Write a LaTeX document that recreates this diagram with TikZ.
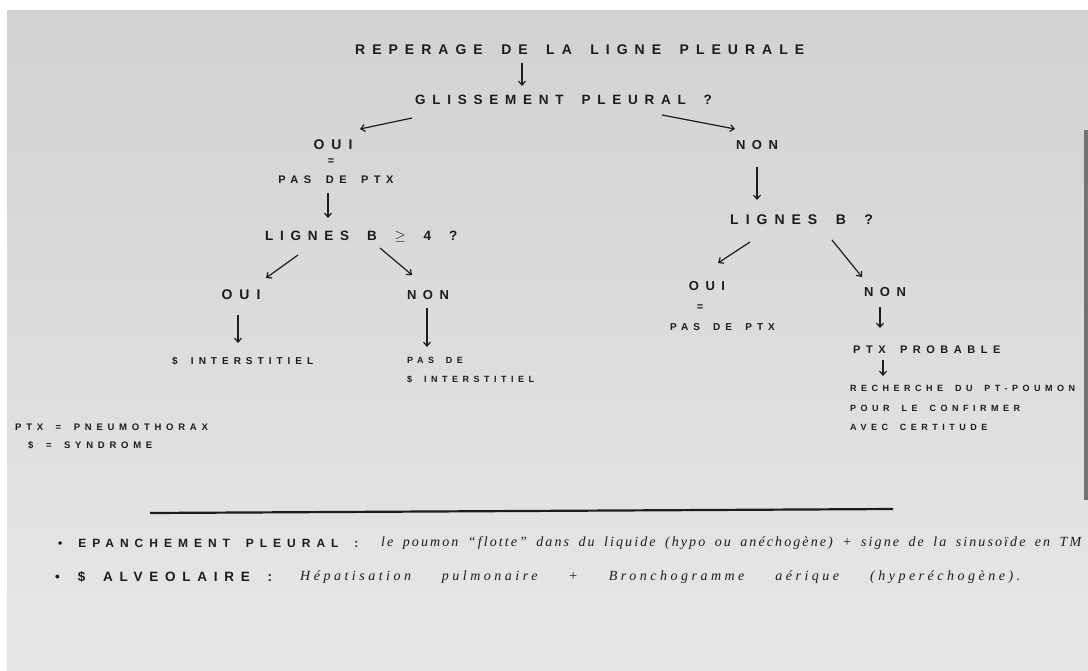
\documentclass[tikz,border=0pt]{standalone}
\usepackage{fontspec}
\usetikzlibrary{arrows.meta}
\newfontfamily\capsfont[LetterSpace=50,WordSpace=1.7]{Liberation Sans Bold}
\newfontfamily\ecritfont[LetterSpace=15]{Liberation Serif}
\newfontfamily\ecritlarge[LetterSpace=25]{Liberation Serif}
\definecolor{encre}{HTML}{1C1C1C}
\definecolor{papierhaut}{HTML}{D2D2D2}
\definecolor{papierbas}{HTML}{E7E7E7}

\begin{document}
\begin{tikzpicture}[x=1pt,y=-1pt]
  \tikzset{ maj/.style={encre,inner sep=0pt,font=\capsfont\fontsize{#1}{#1}\selectfont},
    bloc/.style={align=left,font=\capsfont\fontsize{#1}{19.5}\selectfont},
    ecr/.style={encre,inner sep=0pt,font=\ecritfont\itshape\fontsize{14}{16}\selectfont},
    fl/.style={encre,line width=1.2pt,-{Straight Barb[length=4pt,width=7pt]}},
  }
  \useasboundingbox (0,0) rectangle (1088,670);
  \fill[white] (0,0) rectangle (1088,670);
  \shade[top color=papierhaut,bottom color=papierbas] (7,10) rectangle (1088,670);
  \fill[black!55] (1084,130) rectangle (1088,500);

  \node[maj=14,anchor=west] (titre) at (355,50)  {REPERAGE DE LA LIGNE PLEURALE};
  \node[maj=13.5,anchor=west] (glis)  at (415,100) {GLISSEMENT PLEURAL ?};

  \node[maj=14] (oui1) at (333,145) {OUI};
  \node[maj=11] (eq1)  at (331,162) {=};
  \node[maj=11] (pas1) at (336,180) {PAS DE PTX};
  \node[maj=13.5,anchor=west] (lig1) at (265,237) {LIGNES B $\geq$ 4 ?};
  \node[maj=14] (oui2) at (241,295) {OUI};
  \node[maj=13] (non2) at (428,295) {NON};
  \node[maj=10,anchor=west] (synd)  at (172,361) {\$ INTERSTITIEL};
  \node[maj=9,bloc=9,anchor=west] (pasde) at (407,370) {PAS DE\\ \$ INTERSTITIEL};

  \node[maj=13] (non1) at (757,145) {NON};
  \node[maj=14,anchor=west] (lig2) at (730,220) {LIGNES B ?};
  \node[maj=13] (oui3) at (707,286) {OUI};
  \node[maj=11] (eq3)  at (700,308) {=};
  \node[maj=10,anchor=west] (pas3) at (670,327) {PAS DE PTX};
  \node[maj=13] (non3) at (885,292) {NON};
  \node[maj=11,anchor=west] (prob) at (853,350) {PTX PROBABLE};
  \node[maj=9,bloc=9,anchor=west] (rech) at (850,408) {RECHERCHE DU PT-POUMON\\POUR LE CONFIRMER\\AVEC CERTITUDE};

  \node[maj=9.5,anchor=west] (leg1) at (15,427) {PTX = PNEUMOTHORAX};
  \node[maj=9.5,anchor=west] (leg2) at (28,445) {\$ = SYNDROME};

  \draw[fl] ([shift={(167,13)}]titre.west) -- ([shift={(107,-14)}]glis.west);
  \draw[fl] ([shift={(-3,18)}]glis.west) -- ([shift={(27,-16)}]oui1.center);
  \draw[fl] ([shift={(247,15)}]glis.west) -- ([shift={(-22,-16)}]non1.center);
  \draw[fl] ([shift={(-8,13)}]pas1.center) -- ([shift={(63,-19)}]lig1.west);
  \draw[fl] ([shift={(33,18)}]lig1.west) -- ([shift={(25,-17)}]oui2.center);
  \draw[fl] ([shift={(115,11)}]lig1.west) -- ([shift={(-16,-20)}]non2.center);
  \draw[fl] ([shift={(-3,20)}]oui2.center) -- ([shift={(66,-18)}]synd.west);
  \draw[fl] ([shift={(-1,13)}]non2.center) -- ([shift={(20,-23)}]pasde.west);
  \draw[fl] ([shift={(0,22)}]non1.center) -- ([shift={(27,-20)}]lig2.west);
  \draw[fl] ([shift={(20,22)}]lig2.west) -- ([shift={(11,-23)}]oui3.center);
  \draw[fl] ([shift={(102,20)}]lig2.west) -- ([shift={(-23,-15)}]non3.center);
  \draw[fl] ([shift={(-5,15)}]non3.center) -- ([shift={(27,-22)}]prob.west);
  \draw[fl] ([shift={(30,10)}]prob.west) -- ([shift={(33,-32)}]rech.west);

  \draw[encre,line width=2.2pt] (150,513) -- (893,509);

  \node[maj=12,anchor=west] (ep)   at (58,543)  {• EPANCHEMENT PLEURAL :};
  \node[ecr,anchor=west]    (epx)  at (381,543) {\makebox[700pt][s]{le poumon “flotte” dans du liquide (hypo ou anéchogène) + signe de la sinusoïde en TM}};
  \node[maj=13.5,anchor=west] (alv)  at (55,577)  {• \$ ALVEOLAIRE :};
  \node[ecr,anchor=west,font=\ecritlarge\itshape\fontsize{14}{16}\selectfont] (alvx) at (300,577) {\makebox[720pt][s]{Hépatisation pulmonaire + Bronchogramme aérique (hyperéchogène).}};

\end{tikzpicture}
\end{document}
